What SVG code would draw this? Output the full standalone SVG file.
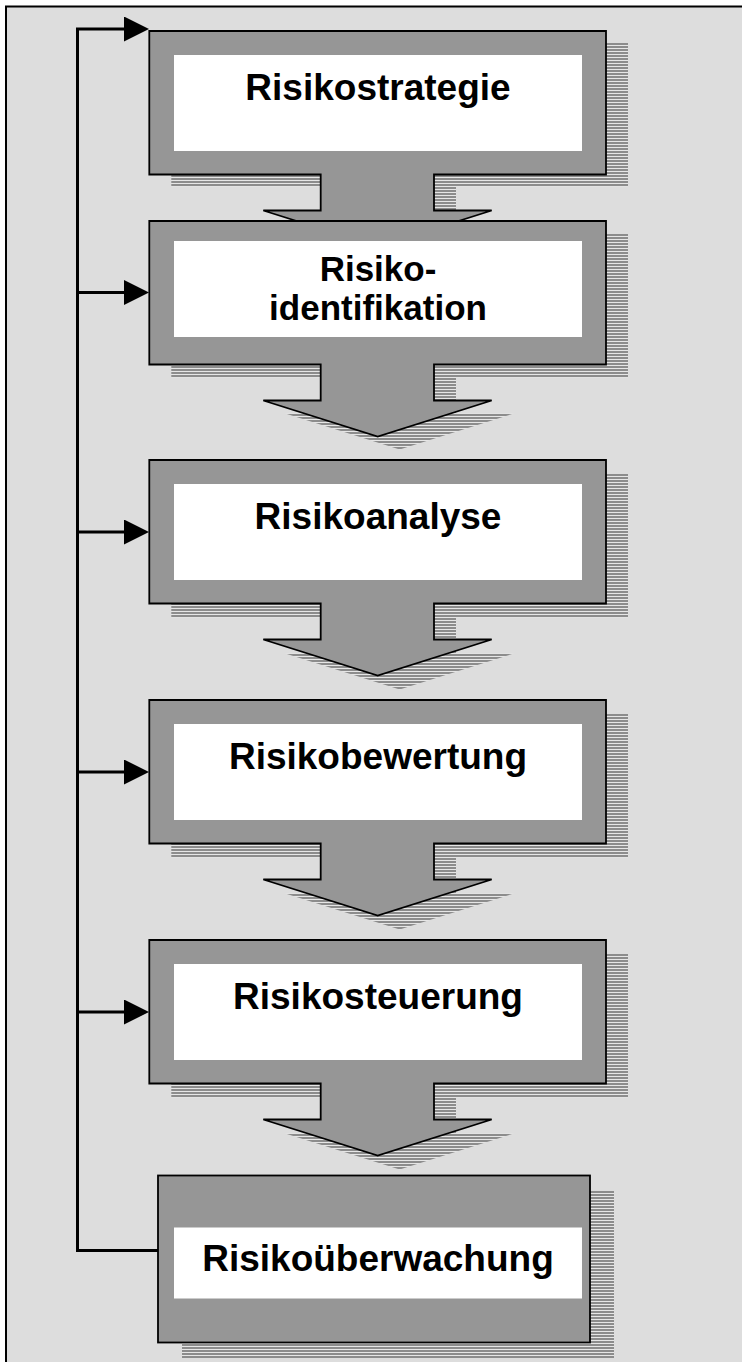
<svg xmlns="http://www.w3.org/2000/svg" xmlns:xlink="http://www.w3.org/1999/xlink" width="742" height="1362" viewBox="0 0 742 1362">
  <style>
    .shape { fill: #969696; stroke: #000; stroke-width: 1.8; stroke-linejoin: miter; }
    .shadow { fill: url(#stripes); stroke: none; }
    .inner { fill: #ffffff; stroke: none; }
    .label { font-family: "Liberation Sans", Arial, sans-serif; font-weight: bold; font-size: 37px; fill: #000; text-anchor: middle; }
    .label2 { font-size: 35px; }
    .conn { fill: none; stroke: #000; stroke-width: 3; stroke-linejoin: miter; }
  </style>
  <defs>
    <pattern id="stripes" x="0" y="0" width="4" height="3" patternUnits="userSpaceOnUse">
      <rect width="4" height="3" fill="#e6e6e6"/>
      <rect width="4" height="2" fill="#8c8c8c"/>
    </pattern>
    <path id="arrowShape" d="M149.3,0 H606 V143.5 H434 V179.5 H491.7 L377.7,215.5 L263.3,179.5 H320.7 V143.5 H149.3 Z"/>
    <marker id="head" markerUnits="userSpaceOnUse" markerWidth="26" markerHeight="26" refX="1" refY="12.5" orient="auto">
      <path d="M0,0 L25,12.5 L0,25 Z" fill="#000"/>
    </marker>
  </defs>

  <rect id="frame" x="6" y="6.5" width="800" height="1400" fill="#dddddd" stroke="#000" stroke-width="2"/>

  <g id="stage1">
    <use xlink:href="#arrowShape" class="shadow" transform="translate(22,43)"/>
    <use xlink:href="#arrowShape" class="shape" transform="translate(0,31)"/>
    <rect class="inner" x="174" y="55" width="408" height="96"/>
    <text class="label" x="378" y="100">Risikostrategie</text>
  </g>

  <g id="stage2">
    <use xlink:href="#arrowShape" class="shadow" transform="translate(22,234)"/>
    <use xlink:href="#arrowShape" class="shape" transform="translate(0,221)"/>
    <rect class="inner" x="174" y="241" width="408" height="96"/>
    <text class="label label2" x="378" y="280.5">Risiko-</text>
    <text class="label label2" x="378" y="320">identifikation</text>
  </g>

  <g id="stage3">
    <use xlink:href="#arrowShape" class="shadow" transform="translate(22,474)"/>
    <use xlink:href="#arrowShape" class="shape" transform="translate(0,460)"/>
    <rect class="inner" x="174" y="484" width="408" height="96"/>
    <text class="label" x="378" y="529">Risikoanalyse</text>
  </g>

  <g id="stage4">
    <use xlink:href="#arrowShape" class="shadow" transform="translate(22,714)"/>
    <use xlink:href="#arrowShape" class="shape" transform="translate(0,700)"/>
    <rect class="inner" x="174" y="724" width="408" height="96"/>
    <text class="label" x="378" y="768.5">Risikobewertung</text>
  </g>

  <g id="stage5">
    <use xlink:href="#arrowShape" class="shadow" transform="translate(22,954)"/>
    <use xlink:href="#arrowShape" class="shape" transform="translate(0,940)"/>
    <rect class="inner" x="174" y="964" width="408" height="96"/>
    <text class="label" x="378" y="1009">Risikosteuerung</text>
  </g>

  <g id="stage6">
    <rect class="shadow" x="182" y="1191" width="432" height="167"/>
    <rect class="shape" x="158" y="1175.5" width="432" height="167"/>
    <rect class="inner" x="174" y="1227.5" width="408" height="71"/>
    <text class="label" x="378" y="1271">Risikoüberwachung</text>
  </g>

  <g id="connectors">
    <path class="conn" d="M158,1250.5 H77.5 V29 H125" marker-end="url(#head)"/>
    <path class="conn" d="M77.5,292.5 H125" marker-end="url(#head)"/>
    <path class="conn" d="M77.5,532 H125" marker-end="url(#head)"/>
    <path class="conn" d="M77.5,772 H125" marker-end="url(#head)"/>
    <path class="conn" d="M77.5,1012 H125" marker-end="url(#head)"/>
  </g>
</svg>
